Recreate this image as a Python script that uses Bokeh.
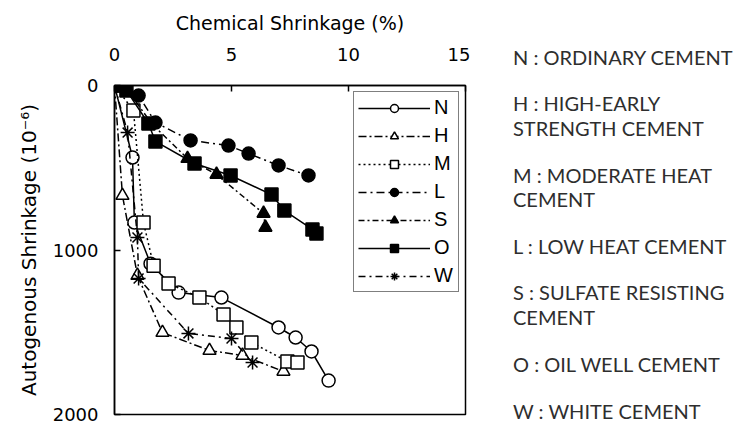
from bokeh.plotting import figure
from bokeh.layouts import row
from bokeh.models import Range1d, Legend, LegendItem, FixedTicker, Div
from bokeh.embed import file_html
from bokeh.resources import INLINE

# ---------------- data ----------------
x_ticks = [0, 5, 10, 15]
y_ticks = [0, 1000, 2000]

n_x = [0, 0.77, 0.85, 1.54, 2.74, 4.57, 7.01, 7.74, 8.42, 9.15]
n_y = [0, 438, 833, 1083, 1259, 1289, 1471, 1532, 1617, 1794]

h_x = [0, 0.34, 0.98, 2.05, 4.06, 5.47, 7.22]
h_y = [0, 669, 1155, 1502, 1611, 1641, 1738]

m_x = [0, 0.81, 1.24, 1.67, 2.31, 3.63, 4.66, 5.21, 5.85, 7.39, 7.82]
m_y = [0, 152, 833, 1095, 1203, 1289, 1392, 1471, 1562, 1678, 1684]

l_x = [0, 1.03, 1.75, 3.25, 4.87, 5.73, 7.01, 8.29]
l_y = [0, 61, 225, 334, 365, 414, 486, 547]

s_x = [0, 0.60, 1.62, 3.12, 4.36, 6.37, 6.45]
s_y = [0, 38, 237, 444, 541, 778, 863]

o_x = [0, 0.51, 1.45, 1.75, 3.42, 4.96, 6.71, 7.26, 8.46, 8.63]
o_y = [0, 30, 231, 340, 474, 547, 663, 760, 875, 899]

w_x = [0, 0.56, 0.98, 1.03, 3.16, 5.00, 5.90]
w_y = [0, 286, 924, 1173, 1507, 1538, 1684]

series_names = ["N", "H", "M", "L", "S", "O", "W"]
descriptions = [
    ["N : ORDINARY CEMENT"],
    ["H : HIGH-EARLY", "STRENGTH CEMENT"],
    ["M : MODERATE HEAT", "CEMENT"],
    ["L : LOW HEAT CEMENT"],
    ["S : SULFATE RESISTING", "CEMENT"],
    ["O : OIL WELL CEMENT"],
    ["W : WHITE CEMENT"],
]

# ---------------- main chart ----------------
p = figure(width=470, height=427, output_backend="svg", toolbar_location=None,
           x_range=Range1d(0, 15), y_range=Range1d(2000, 0),
           x_axis_location="above",
           min_border_left=114, min_border_right=5,
           min_border_top=85, min_border_bottom=13)
p.background_fill_color = "white"
p.border_fill_color = "white"
p.outline_line_color = "black"
p.outline_line_width = 1.5
p.grid.visible = False

axis_font = "DejaVu Sans"
p.xaxis.ticker = FixedTicker(ticks=x_ticks)
p.yaxis.ticker = FixedTicker(ticks=y_ticks)
for ax in (p.xaxis[0], p.yaxis[0]):
    ax.major_tick_in = 6
    ax.major_tick_out = 0
    ax.minor_tick_line_color = None
    ax.major_tick_line_width = 1.5
    ax.axis_line_width = 1.5
    ax.major_label_text_font = axis_font
    ax.major_label_text_font_size = "18px"
    ax.major_label_text_color = "black"
    ax.axis_label_text_font = axis_font
    ax.axis_label_text_font_style = "normal"
    ax.axis_label_text_color = "black"

p.xaxis.axis_label = "Chemical Shrinkage (%)"
p.xaxis.axis_label_text_font_size = "19px"
p.xaxis.major_label_standoff = 25
p.xaxis.axis_label_standoff = 11
p.yaxis.axis_label = "Autogenous Shrinkage (10\u207b\u2076)"
p.yaxis.axis_label_text_font_size = "20px"
p.yaxis.major_label_standoff = 16
p.yaxis.axis_label_standoff = 9

styles = [
    (n_x, n_y, "circle", "white", "solid"),
    (h_x, h_y, "triangle", "white", "8 3 2 3"),
    (m_x, m_y, "square", "white", "2 3"),
    (l_x, l_y, "circle", "black", "8 4 2 4"),
    (s_x, s_y, "triangle", "black", "6 3 2 3"),
    (o_x, o_y, "square", "black", "solid"),
    (w_x, w_y, "asterisk", "white", "7 4 2 4"),
]

items = []
for name, (xs, ys, mk, fill, dash) in zip(series_names, styles):
    lr = p.line(xs, ys, line_color="black", line_width=1.5, line_dash=dash)
    size = 13 if mk != "asterisk" else 14
    sr = p.scatter(xs, ys, marker=mk, size=size, fill_color=fill,
                   line_color="black", line_width=1.5)
    items.append(LegendItem(label=name, renderers=[lr, sr]))

legend = Legend(items=items, location="top_right")
legend.glyph_width = 72
legend.glyph_height = 20
legend.spacing = 5
legend.padding = 4
legend.margin = 6
legend.label_standoff = 4
legend.label_text_font = "Liberation Sans"
legend.label_text_font_size = "20px"
legend.label_text_color = "black"
legend.border_line_color = "black"
legend.border_line_width = 1.5
legend.background_fill_color = "white"
legend.background_fill_alpha = 1.0
p.add_layout(legend)

# ---------------- explanation panel ----------------
line_top_px = [[41], [87, 112], [159, 183], [230], [276, 301], [348], [395]]
parts = []
for lines, tops in zip(descriptions, line_top_px):
    for s, top in zip(lines, tops):
        parts.append('<div style="position:absolute;left:38px;top:%dpx;'
                     'white-space:nowrap;line-height:22px;">%s</div>' % (top, s))
html = ('<div style="position:relative;width:266px;height:427px;'
        'font-family:Lato,sans-serif;font-size:20px;color:#2e2e2e;">'
        + "".join(parts) + '</div>')
t = Div(text=html, width=266, height=427)

layout = row(p, t)
open("out.html", "w").write(file_html(layout, INLINE))
